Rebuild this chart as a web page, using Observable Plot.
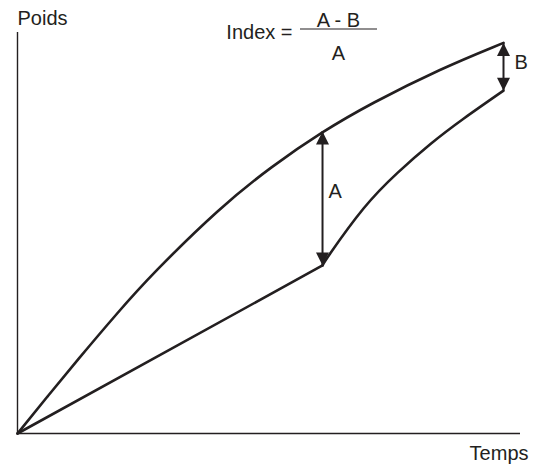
<!DOCTYPE html>
<html><head><meta charset="utf-8">
<script src="https://cdn.jsdelivr.net/npm/d3@7"></script>
<script src="https://cdn.jsdelivr.net/npm/@observablehq/plot@0.6"></script>
<style>html,body{margin:0;padding:0;background:#fff;} svg{display:block;}</style>
</head><body><div id="chart"></div>
<script>
// Upper curve (Poids vs Temps)
const upperTemps = [0, 5.96, 11.93, 19.88, 26.64, 40.36, 50.5, 60.64, 70.18, 84.1, 96.62];
const upperPoids = [0, 9.23, 18.35, 30.12, 39.63, 56.49, 66.6, 75.31, 82.25, 90.97, 97.41];
// Lower curve: straight segment to the kink, then curved recovery
const lowerTemps = [0, 60.64, 62.23, 68.79, 75.55, 82.11, 88.67, 96.62];
const lowerPoids = [0, 41.9, 45.0, 56.1, 65.0, 72.2, 78.5, 85.5];
// Difference arrows
const arrowLabels = ["A", "B"];
const arrowTemps = [60.64, 96.62];
const arrowBottom = [41.9, 85.5];
const arrowTop = [75.31, 97.41];

const ink = "#231f20";
const font = "'Liberation Sans', Arial, Helvetica, sans-serif";
const fs = 20;

const upper = upperTemps.map((t, i) => ({t, p: upperPoids[i]}));
const lower = lowerTemps.map((t, i) => ({t, p: lowerPoids[i]}));
const lowerStraight = lower.slice(0, 2);
const lowerCurve = lower.slice(1);
const arrows = arrowLabels.map((label, i) => ({label, t: arrowTemps[i], lo: arrowBottom[i], hi: arrowTop[i]}));

const head = {draw(ctx) { ctx.moveTo(0, 0); ctx.lineTo(6.5, 13); ctx.lineTo(-6.5, 13); ctx.closePath(); }};

const fractionBar = (index, scales, values, dims) => {
  const g = d3.create("svg:g");
  g.append("line")
    .attr("x1", dims.marginLeft + 283).attr("x2", dims.marginLeft + 360)
    .attr("y1", dims.marginTop - 3).attr("y2", dims.marginTop - 3)
    .attr("stroke", ink).attr("stroke-width", 1.2);
  return g.node();
};

const txt = {fontSize: fs, fill: ink, lineAnchor: "middle"};

const chart = Plot.plot({
  width: 539, height: 468,
  marginLeft: 17, marginRight: 19, marginTop: 32, marginBottom: 35,
  x: {domain: [0, 100], axis: null},
  y: {domain: [0, 100], axis: null},
  style: {fontFamily: font, background: "#fff"},
  marks: [
    Plot.ruleX([0], {stroke: ink, strokeWidth: 1.4}),
    Plot.ruleY([0], {stroke: ink, strokeWidth: 1.4}),
    Plot.line(upper, {x: "t", y: "p", curve: "basis", stroke: ink, strokeWidth: 2.6}),
    Plot.line(lowerStraight, {x: "t", y: "p", stroke: ink, strokeWidth: 2.6}),
    Plot.line(lowerCurve, {x: "t", y: "p", curve: "natural", stroke: ink, strokeWidth: 2.6}),
    Plot.ruleX(arrows, {x: "t", y1: "lo", y2: "hi", stroke: ink, strokeWidth: 2}),
    Plot.dot(arrows, {x: "t", y: "hi", symbol: head, fill: ink, stroke: "none", r: 5}),
    Plot.dot(arrows, {x: "t", y: "lo", symbol: head, fill: ink, stroke: "none", r: 5, rotate: 180}),
    Plot.text(arrows.slice(0, 1), {x: "t", y: d => (d.lo + d.hi) / 2, text: "label", textAnchor: "start", dx: 6, dy: -7, ...txt}),
    Plot.text(arrows.slice(1, 2), {x: "t", y: d => (d.lo + d.hi) / 2, text: "label", textAnchor: "start", dx: 11, dy: -4, ...txt}),
    Plot.text(["Poids"], {text: d => d, frameAnchor: "top-left", textAnchor: "start", dy: -14, ...txt}),
    Plot.text(["Temps"], {text: d => d, frameAnchor: "bottom-right", textAnchor: "end", dx: 8, dy: 20, ...txt}),
    Plot.text(["Index ="], {text: d => d, frameAnchor: "top-left", textAnchor: "end", dx: 275, dy: 0, ...txt}),
    Plot.text(["A - B"], {text: d => d, frameAnchor: "top-left", textAnchor: "middle", dx: 321, dy: -12, ...txt}),
    Plot.text(["A"], {text: d => d, frameAnchor: "top-left", textAnchor: "middle", dx: 321, dy: 21, ...txt}),
    fractionBar
  ]
});
document.getElementById("chart").appendChild(chart);
</script>
</body></html>
